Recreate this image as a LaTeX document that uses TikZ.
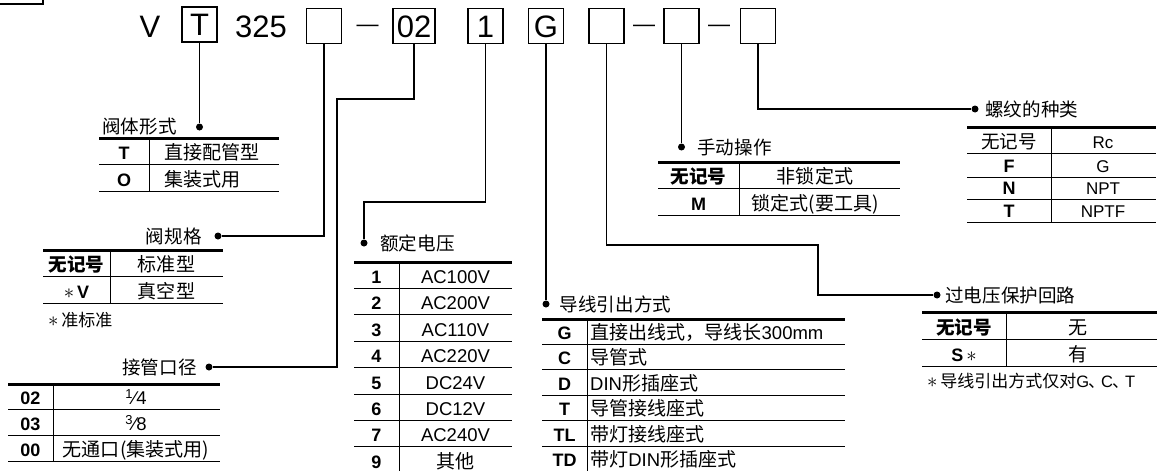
\documentclass[tikz,border=0pt]{standalone}
\usepackage{fontspec}
\setmainfont{Liberation Sans}
\newfontfamily\cjk{Noto Sans CJK SC}[Scale=1.03]
\usetikzlibrary{positioning}
\newcommand\starmark{{\fontsize{22}{22}\selectfont$\ast$}}

\begin{document}
\begin{tikzpicture}[x=1pt, y=-1pt]
\tikzstyle{codebox} = [draw, line width=1.3pt, minimum width=35pt, minimum height=35pt, inner sep=0pt, font=\fontsize{31}{31}\selectfont, text height=22pt, text depth=0pt]
\tikzstyle{big} = [inner sep=0pt, anchor=base, font=\fontsize{31}{31}\selectfont]
\tikzstyle{hyph} = [inner sep=0pt, anchor=base, font=\fontsize{22}{22}\selectfont]
\tikzstyle{dot} = [circle, fill, inner sep=0pt, minimum size=7pt]
\tikzstyle{lbl} = [inner sep=0pt, font=\cjk\fontsize{18}{18}\selectfont]
\tikzstyle{code} = [inner sep=0pt, anchor=base, font=\bfseries\fontsize{18}{18}\selectfont]
\tikzstyle{desc} = [inner sep=0pt, anchor=base, font=\fontsize{18.5}{18.5}\selectfont]
\tikzstyle{note} = [inner sep=0pt, anchor=base west, font=\fontsize{16.5}{16.5}\selectfont]
\tikzstyle{link} = [line width=1.3pt]
\tikzstyle{rowline} = [line width=1pt]
\tikzstyle{headline} = [line width=3pt]

\useasboundingbox (0,0) rectangle (1159,471);

% model code
\draw[link] (-10,-10) rectangle (43,4);
\node[big] (cV) at (150,37) {V};
\node[codebox] (cT) at (199.5,24.5) {T};
\node[big] (c325) at (261,37) {325};
\node[codebox] (cSpec) at (324,26) {};
\node[hyph] (h1) at (367.5,31) {—};
\node[codebox, minimum width=42pt] (cPort) at (414,26) {02};
\node[codebox] (cVolt) at (485.5,26) {1};
\node[codebox] (cLead) at (546,26) {G};
\node[codebox] (cSurge) at (606.5,26) {};
\node[hyph] (h2) at (644,31) {—};
\node[codebox] (cManual) at (681.5,26) {};
\node[hyph] (h3) at (719,31) {—};
\node[codebox] (cThread) at (758,26) {};

% dots and titles
\node[dot] (dBody) at (cT.south |- 0,127) {};
\node[dot] (dSpec) at (218,236) {};
\node[dot] (dPort) at (209,367) {};
\node[dot] (dVolt) at (364,243) {};
\node[dot] (dLead) at (cLead.south |- 0,304) {};
\node[dot] (dSurge) at (937,295) {};
\node[dot] (dManual) at (cManual.south |- 0,147) {};
\node[dot] (dThread) at (975,109) {};

\node[lbl, left=19pt of dBody] (lBody) {阀体形式};
\node[lbl, left=12.5pt of dSpec] (lSpec) {阀规格};
\node[lbl, left=8.5pt of dPort] (lPort) {接管口径};
\node[lbl, right=12.5pt of dVolt] (lVolt) {额定电压};
\node[lbl, right=10pt of dLead] (lLead) {导线引出方式};
\node[lbl, right=4.5pt of dSurge] (lSurge) {过电压保护回路};
\node[lbl, right=12pt of dManual] (lManual) {手动操作};
\node[lbl, right=6.5pt of dThread] (lThread) {螺纹的种类};

\draw[link] (cT) -- (dBody);
\draw[link] (cSpec) |- (dSpec);
\draw[link] (cPort) |- (337,99) |- (dPort);
\draw[link] (cVolt) |- (364,202) -- (dVolt);
\draw[link] (cLead) -- (dLead);
\draw[link] (cSurge) |- (818,245) |- (dSurge);
\draw[link] (cManual) -- (dManual);
\draw[link] (cThread) |- (dThread);

% body
\draw[headline] (99,138) -- (279,138);
\draw[rowline] (149,138) -- (149,191);
\foreach \c/\d [count=\i] in {T/直接配管型, O/集装式用} {
  \node[code] (body-c\i) at (124,{138+26.5*\i-5}) {\c};
  \node[desc, anchor=base west] (body-d\i) at (164,{138+26.5*\i-5}) {\cjk\d};
  \draw[rowline] (99,{138+26.5*\i}) -- (279,{138+26.5*\i});
}

% spec
\draw[headline] (43,250) -- (223,250);
\draw[rowline] (110,250) -- (110,303);
\foreach \c/\d [count=\i] in {{\cjk\bfseries 无记号}/标准型, {\mdseries\starmark\,\bfseries V}/真空型} {
  \node[code] (spec-c\i) at (76.5,{250+26.5*\i-5}) {\c};
  \node[desc] (spec-d\i) at (166.5,{250+26.5*\i-5}) {\cjk\d};
  \draw[rowline] (43,{250+26.5*\i}) -- (223,{250+26.5*\i});
}
\node[note] (specnote) at (48,326) {\starmark\,{\cjk 准标准}};

% port
\draw[headline] (8,384) -- (220,384);
\draw[rowline] (53,384) -- (53,461);
\foreach \c/\d [count=\i] in {02/{\textsuperscript{1}⁄4}, 03/{\textsuperscript{3}⁄8}, 00/{\cjk 无通口(集装式用)}} {
  \node[code] (port-c\i) at (30.5,{384+25.7*\i-5}) {\c};
  \node[desc] (port-d\i) at (136,{384+25.7*\i-5}) {\d};
  \draw[rowline] (8,{384+25.7*\i}) -- (220,{384+25.7*\i});
}

% voltage
\draw[headline] (354,262) -- (512,262);
\draw[rowline] (399,262) -- (399,471);
\foreach \c/\d [count=\i] in {1/AC100V, 2/AC200V, 3/AC110V, 4/AC220V, 5/DC24V, 6/DC12V, 7/AC240V, 9/{\cjk 其他}} {
  \node[code] (volt-c\i) at (376.5,{262+26.4*\i-5}) {\c};
  \node[desc] (volt-d\i) at (455.5,{262+26.4*\i-5}) {\d};
  \draw[rowline] (354,{262+26.4*\i}) -- (512,{262+26.4*\i});
}

% lead wire
\draw[headline] (542,319) -- (845,319);
\draw[rowline] (587,319) -- (587,471);
\foreach \c/\d [count=\i] in {G/{{\cjk 直接出线式，导线长}300mm}, C/{\cjk 导管式}, D/{DIN{\cjk 形插座式}}, T/{\cjk 导管接线座式}, TL/{\cjk 带灯接线座式}, TD/{{\cjk 带灯}DIN{\cjk 形插座式}}} {
  \node[code] (lead-c\i) at (564.5,{319+25.4*\i-5}) {\c};
  \node[desc, anchor=base west] (lead-d\i) at (590,{319+25.4*\i-5}) {\d};
  \draw[rowline] (542,{319+25.4*\i}) -- (845,{319+25.4*\i});
}

% surge
\draw[headline] (922,312) -- (1157,312);
\draw[rowline] (1006,312) -- (1006,366);
\foreach \c/\d [count=\i] in {{\cjk\bfseries 无记号}/无, {S\,\mdseries\starmark}/有} {
  \node[code] (surge-c\i) at (964,{312+27*\i-5}) {\c};
  \node[desc] (surge-d\i) at (1078,{312+27*\i-5}) {\cjk\d};
  \draw[rowline] (922,{312+27*\i}) -- (1157,{312+27*\i});
}
\node[note] (surgenote) at (927,387) {\starmark\,{\cjk 导线引出方式仅对}G{\cjk\kern-1pt、\kern-4pt}C{\cjk\kern-1pt、\kern-4pt}T};

% manual
\draw[headline] (658,162) -- (900,162);
\draw[rowline] (739,162) -- (739,215);
\foreach \c/\d [count=\i] in {{\cjk\bfseries 无记号}/非锁定式, M/锁定式(要工具)} {
  \node[code] (man-c\i) at (698.5,{162+26.5*\i-5}) {\c};
  \node[desc] (man-d\i) at (815,{162+26.5*\i-5}) {\cjk\d};
  \draw[rowline] (658,{162+26.5*\i}) -- (900,{162+26.5*\i});
}

% thread
\draw[headline] (967,127) -- (1156,127);
\draw[rowline] (1051,127) -- (1051,222);
\foreach \c/\d/\y [count=\i] in {{\cjk\mdseries 无记号}/Rc/153, F/G/177, N/NPT/199, T/NPTF/222} {
  \node[code] (thr-c\i) at (1009,{\y-5}) {\c};
  \node[desc, font=\fontsize{17}{17}\selectfont] (thr-d\i) at (1103,{\y-5}) {\d};
  \draw[rowline] (967,\y) -- (1156,\y);
}
\end{tikzpicture}
\end{document}
